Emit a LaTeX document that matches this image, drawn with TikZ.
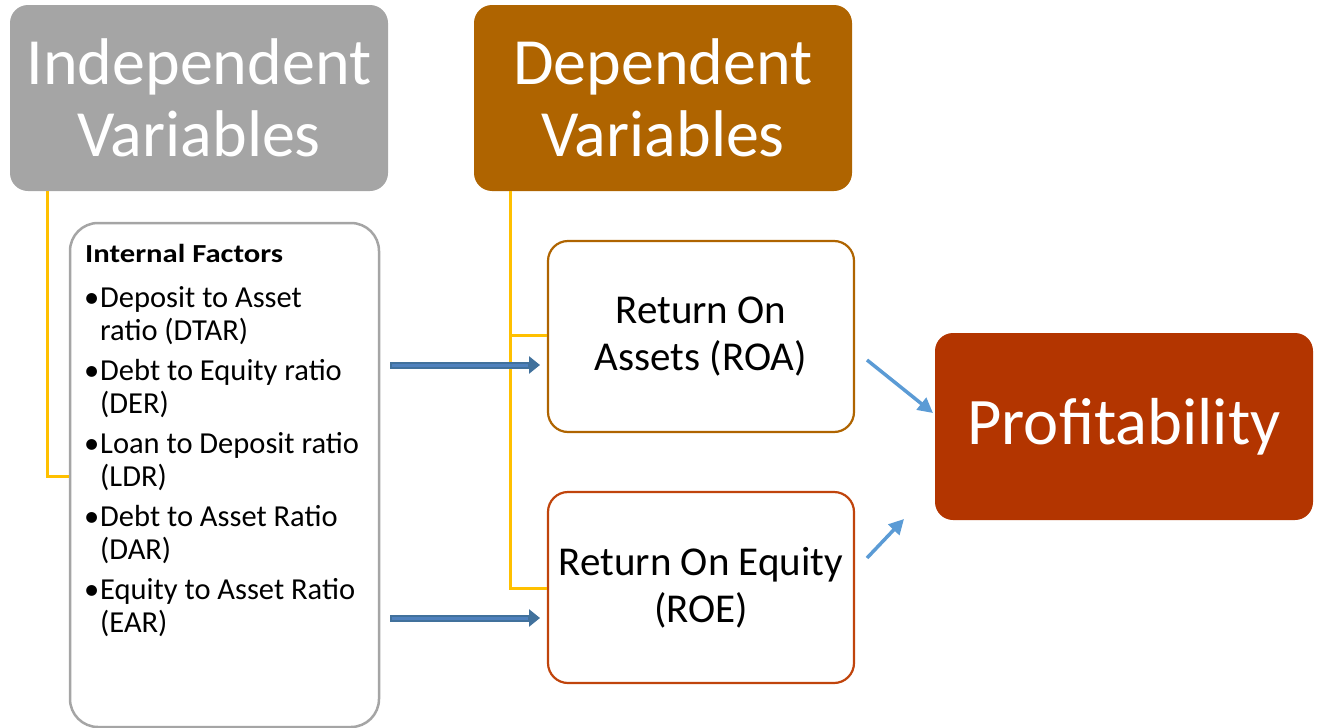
\documentclass[tikz,border=0pt]{standalone}
\usepackage{fontspec}
\setmainfont{Carlito}
\newfontfamily\widebold[FakeStretch=1.18]{Carlito}
\usetikzlibrary{arrows.meta}
\definecolor{grayb}{HTML}{A5A5A5}
\definecolor{brownb}{HTML}{AF6400}
\definecolor{profb}{HTML}{B33500}
\definecolor{roeb}{HTML}{C0440C}
\definecolor{yel}{HTML}{FFC000}
\definecolor{lblue}{HTML}{5B9BD5}
\definecolor{dblue}{HTML}{41719C}
\definecolor{mblue}{HTML}{4F81BD}
\begin{document}
\begin{tikzpicture}[x=1pt,y=-1pt,
  titlebox/.style={rectangle, rounded corners=18pt, minimum width=378pt, minimum height=186pt,
     text=white, align=center, font=\fontsize{66}{72}\selectfont},
  outbox/.style={rectangle, rounded corners=20pt, draw, line width=2.2pt, fill=white,
     minimum width=306pt, minimum height=191pt, align=center, font=\fontsize{41}{47}\selectfont},
  yline/.style={draw=yel, line width=3pt},
  item/.style={anchor=base west, inner sep=0pt, font=\fontsize{30.5}{33}\selectfont},
  bigarrow/.style={line width=7pt, draw=dblue, -{Triangle[length=11pt,width=17pt]}},
  bigarrowin/.style={line width=3pt, draw=mblue},
  smallarrow/.style={draw=lblue, line width=3.5pt, -{Triangle[length=15pt,width=15pt]}}]
\useasboundingbox (0,0) rectangle (1320,728);

\node[titlebox, fill=grayb] (indep) at (199,98) {Independent\\Variables};
\node[titlebox, fill=brownb] (dep) at (663,98) {Dependent\\Variables};

\node[rectangle, rounded corners=28pt, draw=grayb, line width=2.5pt, fill=white,
      minimum width=309pt, minimum height=504pt] (intf) at (224.5,475) {};

\node[outbox, draw=brownb] (roa) at (701,336.5) {Return On\\Assets (ROA)};
\node[outbox, draw=roeb] (roe) at (701,587.5) {Return On Equity\\(ROE)};

\node[rectangle, rounded corners=18pt, fill=profb, minimum width=378pt, minimum height=187pt,
      text=white, font=\fontsize{66.5}{72}\selectfont] (prof) at (1124,426.5) {Profitability};

% connector lines
\draw[yline] (indep.south -| 47,0) |- (intf.west |- 0,476);
\coordinate (jA) at (510,335);
\draw[yline] (dep.south -| jA) |- (roe.west |- 0,588);
\draw[yline] (jA) -- (roa.west |- jA);

% internal factors text
\node[item, font=\widebold\bfseries\fontsize{26}{30}\selectfont] (ifh) at (85,262) {Internal Factors};
\node[item] (b1) at (84,307) {•};
\node[item] (t1a) at (100,307) {Deposit to Asset};
\node[item] (t1b) at (100,340) {ratio (DTAR)};
\node[item] (b2) at (84,380) {•};
\node[item] (t2a) at (100,380) {Debt to Equity ratio};
\node[item] (t2b) at (100,413) {(DER)};
\node[item] (b3) at (84,453) {•};
\node[item] (t3a) at (100,453) {Loan to Deposit ratio};
\node[item] (t3b) at (100,486) {(LDR)};
\node[item] (b4) at (84,526) {•};
\node[item] (t4a) at (100,526) {Debt to Asset Ratio};
\node[item] (t4b) at (100,559) {(DAR)};
\node[item] (b5) at (84,599) {•};
\node[item] (t5a) at (100,599) {Equity to Asset Ratio};
\node[item] (t5b) at (100,632) {(EAR)};

% big arrows
\coordinate (a1s) at (390,365);
\coordinate (a1e) at (540,365);
\coordinate (a2s) at (390,618);
\coordinate (a2e) at (540,618);
\draw[bigarrow] (a1s) -- (a1e);
\draw[bigarrowin] ([xshift=2pt]a1s) -- ([xshift=-12pt]a1e);
\draw[bigarrow] (a2s) -- (a2e);
\draw[bigarrowin] ([xshift=2pt]a2s) -- ([xshift=-12pt]a2e);

% small arrows
\coordinate (s1) at (867,360);
\coordinate (s1e) at (933,413);
\coordinate (s2) at (867,558);
\coordinate (s2e) at (904,519);
\draw[smallarrow] (s1) -- (s1e);
\draw[smallarrow] (s2) -- (s2e);
\end{tikzpicture}
\end{document}
